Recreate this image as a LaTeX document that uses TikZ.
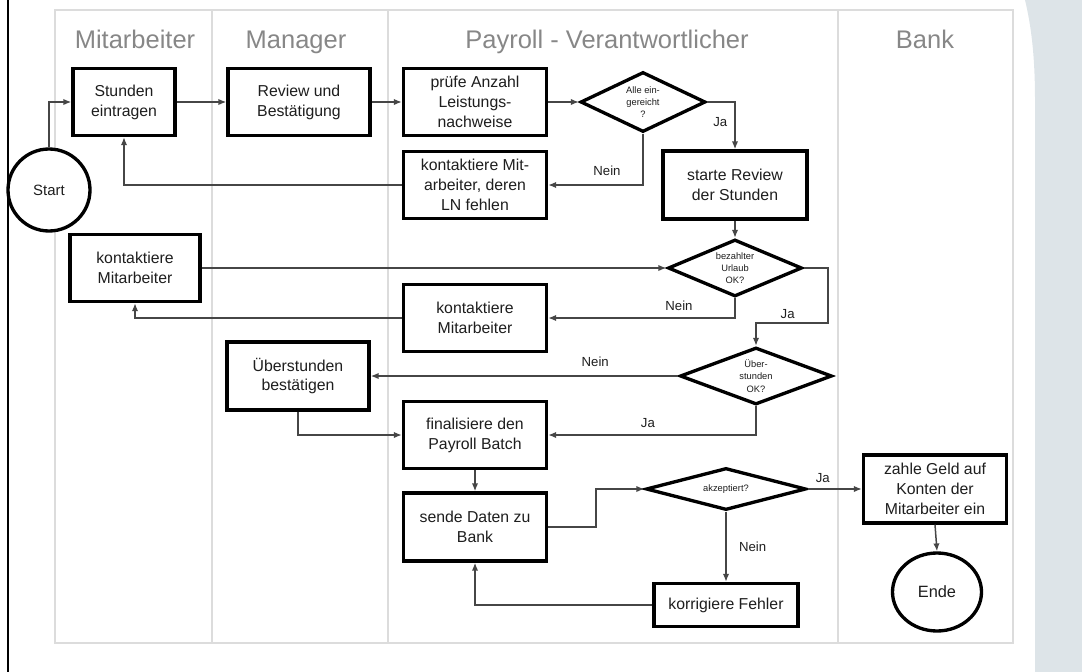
\documentclass[tikz,border=0pt]{standalone}
\usepackage{fontspec}
\setmainfont{Liberation Sans}
\usetikzlibrary{shapes.geometric,arrows.meta}

\definecolor{lanegray}{RGB}{220,220,220}
\definecolor{headgray}{RGB}{135,135,135}
\definecolor{panelblue}{RGB}{221,228,232}
\definecolor{inkgray}{RGB}{30,30,30}
\definecolor{wiregray}{RGB}{70,70,70}

\tikzset{
  stepbox/.style={draw=black, line width=1.9pt, fill=white, rectangle, align=center,
    minimum width=28.6mm, minimum height=13.4mm, inner sep=1pt, text=inkgray,
    font=\fontsize{9}{11.3}\selectfont},
  decision/.style={draw=black, line width=1.9pt, fill=white, diamond, aspect=2,
    align=center, inner sep=0pt, text=inkgray, font=\fontsize{5.3}{7}\selectfont},
  terminal/.style={draw=black, line width=1.9pt, fill=white, circle, inner sep=0pt,
    minimum size=16.4mm, text=inkgray, font=\fontsize{8.5}{10}\selectfont},
  lanehead/.style={text=headgray, anchor=base, font=\fontsize{14.5}{16}\selectfont},
  flow/.style={draw=wiregray, line width=0.85pt, -{Latex[length=4.5pt,width=3.6pt]}},
  answer/.style={text=inkgray, inner sep=1pt, font=\fontsize{7.5}{9}\selectfont},
}

\begin{document}
\begin{tikzpicture}[x=0.2mm, y=-0.2mm]
\useasboundingbox (0,0) rectangle (1082,672);

% Panel on the right and border on the left
\fill[panelblue] (1025,0) .. controls (1031,25) and (1035,55) .. (1035,100)
  -- (1035,672) -- (1082,672) -- (1082,0) -- cycle;
\draw[line width=1.6pt, black] (8,0) -- (8,672);

% Swimlanes
\draw[lanegray, line width=0.9pt] (55,10) rectangle (1013,643);
\draw[lanegray, line width=0.9pt] (212,10) -- (212,643);
\draw[lanegray, line width=0.9pt] (388,10) -- (388,643);
\draw[lanegray, line width=0.9pt] (838,10) -- (838,643);
\node[lanehead] (hmit) at (135,49) {Mitarbeiter};
\node[lanehead] (hman) at (296,49) {Manager};
\node[lanehead] (hpay) at (607,49) {Payroll - Verantwortlicher};
\node[lanehead] (hbank) at (925,49) {Bank};

% Steps
\node[terminal] (start) at (49,190) {Start};
\node[stepbox, minimum width=20.4mm] (stunden) at (124,102) {Stunden\\eintragen};
\node[stepbox, minimum width=28.4mm] (review) at (299,102) {Review und\\Bestätigung};
\node[stepbox] (pruefe) at (475,102) {prüfe Anzahl\\Leistungs-\\nachweise};
\node[decision, minimum width=25mm, minimum height=12mm] (alle) at (643,102) {Alle ein-\\gereicht\\?};
\node[stepbox] (fehlen) at (475,185) {kontaktiere Mit-\\arbeiter, deren\\LN fehlen};
\node[stepbox, minimum width=28.8mm, minimum height=13.6mm] (starte) at (735,185) {starte Review\\der Stunden};
\node[decision, minimum width=26.8mm, minimum height=11.4mm] (urlaub) at (735,268) {bezahlter\\Urlaub\\OK?};
\node[stepbox, minimum width=26mm] (kontaktA) at (135,268) {kontaktiere\\Mitarbeiter};
\node[stepbox] (kontaktB) at (475,318) {kontaktiere\\Mitarbeiter};
\node[decision, minimum width=30.4mm, minimum height=11.4mm] (ueber) at (756,376) {Über-\\stunden\\OK?};
\node[stepbox, minimum width=28.4mm, minimum height=13.6mm] (ueberbest) at (298,376) {Überstunden\\bestätigen};
\node[stepbox] (final) at (475,435) {finalisiere den\\Payroll Batch};
\node[stepbox, minimum height=13.6mm] (sende) at (475,527) {sende Daten zu\\Bank};
\node[decision, minimum width=32mm, minimum height=8.4mm] (akzept) at (726,489) {akzeptiert?};
\node[stepbox, minimum height=13.6mm] (zahle) at (935,489) {zahle Geld auf\\Konten der\\Mitarbeiter ein};
\node[stepbox, minimum width=28.8mm, minimum height=8.6mm] (korr) at (726,605) {korrigiere Fehler};
\node[terminal, ellipse, minimum width=17.8mm, minimum height=15.6mm, font=\fontsize{9.3}{11}\selectfont] (ende) at (937,592) {Ende};

% Bends
\coordinate (bend1) at (828,323);
\coordinate (bend2) at (596,489);

% Connectors
\draw[flow] (start.north) |- (stunden.west);
\draw[flow] (stunden.east) -- (review.west);
\draw[flow] (review.east) -- (pruefe.west);
\draw[flow] (pruefe.east) -- (alle.west);
\draw[flow] (alle.east) -| node[answer, pos=0.71, left=3pt] (ja1) {Ja} (starte.north);
\draw[flow] (alle.south) |- node[answer, pos=0.69, above=4pt] (nein1) {Nein} (fehlen.east);
\draw[flow] (fehlen.west) -| (stunden.south);
\draw[flow] (starte.south) -- (urlaub.north);
\draw[flow] (kontaktA.east) -- (urlaub.west);
\draw[flow] (urlaub.south) |- node[answer, pos=0.65, above=3pt] (nein2) {Nein} (kontaktB.east);
\draw[flow] (kontaktB.west) -| (kontaktA.south);
\draw[flow] (urlaub.east) -| (bend1) -| node[answer, pos=0.28, above=1pt] (ja2) {Ja} (ueber.north);
\draw[flow] (ueber.west) -- node[answer, pos=0.27, above=4pt] (nein3) {Nein} (ueberbest.east);
\draw[flow] (ueber.south) |- node[answer, pos=0.76, above=3pt] (ja3) {Ja} (final.east);
\draw[flow] (ueberbest.south) |- (final.west);
\draw[flow] (final.south) -- (sende.north);
\draw[flow] (sende.east) -| (bend2) -- (akzept.west);
\draw[flow] (akzept.east) -- node[answer, pos=0.28, above=2pt] (ja4) {Ja} (zahle.west);
\draw[flow] (akzept.south) -- node[answer, pos=0.5, right=6pt] (nein4) {Nein} (korr.north);
\draw[flow] (korr.west) -| (sende.south);
\draw[flow] (zahle.south) -- (ende.north);
\end{tikzpicture}
\end{document}
